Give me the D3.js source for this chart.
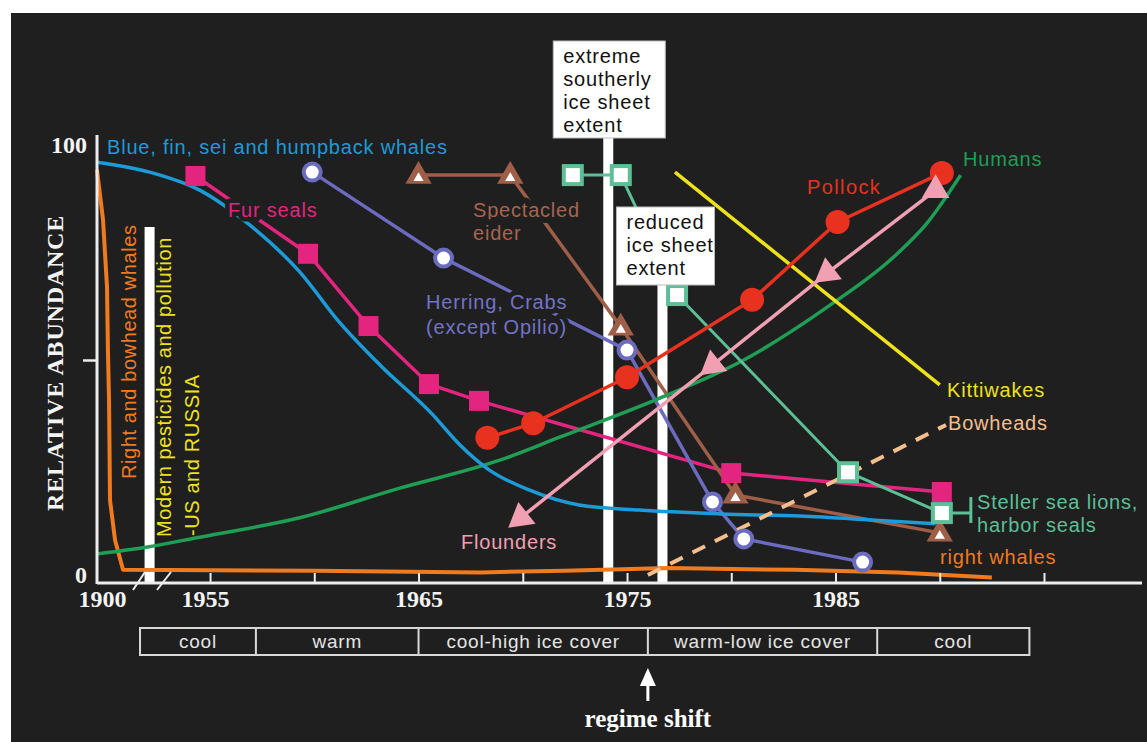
<!DOCTYPE html>
<html><head><meta charset="utf-8">
<script src="https://cdn.jsdelivr.net/npm/d3@7"></script>
<style>body{margin:0;background:#fff}svg{display:block}</style>
</head><body>
<svg id="c" width="1147" height="742"></svg>
<script>
// ---------- data ----------
const blueYears = [1900, 1952.1, 1954.5, 1956.9, 1959.3, 1961.2, 1963.2, 1965.6, 1967.0, 1968.4, 1970.3, 1972.7, 1975.6, 1979.5, 1983.3, 1986.7, 1989.8];
const blueVals  = [96, 93.7, 89.5, 81.4, 70.5, 58.8, 48.6, 37.7, 30.2, 24.4, 19.8, 16.3, 15.1, 14.2, 13.7, 12.8, 11.9];
const humanYears = [1900, 1952, 1954.5, 1959.3, 1964.1, 1968.9, 1971.8, 1976.6, 1980.6, 1984.6, 1987.8, 1989.4, 1991.0];
const humanVals  = [4.9, 6.5, 8.8, 13.3, 20.2, 26.7, 32.1, 41.2, 50.0, 62.3, 74.0, 81.9, 93.0];
const rightYears = [1900, 1906.2, 1910.3, 1911.3, 1912.4, 1913.4, 1918.6, 1926.8, 1960, 1968, 1972, 1977, 1983, 1988, 1992.5];
const rightVals  = [94.2, 82.6, 67, 51.6, 40.7, 17.4, 8.1, 1.2, 1.0, 0.6, 1.0, 1.6, 1.2, 0.6, -0.6];
const furYears = [1954.3, 1959.7, 1962.6, 1965.5, 1967.9, 1980.0, 1990.1];
const furVals  = [92.8, 74.7, 57.9, 44.4, 40.5, 23.7, 19.3];
const herringYears = [1959.9, 1966.2, 1975.0, 1979.1, 1980.6, 1986.3];
const herringVals  = [93.7, 73.7, 52.3, 17.0, 8.4, 3.0];
const eiderYears = [1965.0, 1969.4, 1974.7, 1980.2, 1990.0];
const eiderVals  = [93.0, 93.0, 57.7, 18.6, 9.8];
const stellerYears = [1972.4, 1974.7, 1977.4, 1985.6, 1990.1];
const stellerVals  = [93.0, 93.0, 65.1, 23.9, 14.4];
const pollockYears = [1968.3, 1970.5, 1975.0, 1981.0, 1985.1, 1990.1];
const pollockVals  = [31.9, 35.3, 46.0, 64.0, 82.1, 93.5];
const flounderYears = [1969.9, 1979.1, 1984.6, 1989.8];
const flounderVals  = [13.3, 48.8, 70.2, 89.5];
const kittiYears = [1977.3, 1990.0];
const kittiVals  = [93.7, 44.2];
const bowYears = [1976.0, 1990.3];
const bowVals  = [0, 34.9];

const pesticideYear = 1952.1;
const iceYears = [1974.1, 1976.7];
const iceTexts = [["extreme", "southerly", "ice sheet", "extent"], ["reduced", "ice sheet", "extent"]];
const regimeBounds = [1944.3, 1957.2, 1965.0, 1976.0, 1987.0, 1994.3];
const regimeLabels = ["cool", "warm", "cool-high ice cover", "warm-low ice cover", "cool"];
const regimeShiftYear = 1976.0;
const xTickYears = [1900, 1955, 1960, 1965, 1970, 1975, 1980, 1985, 1990, 1995];
const xTickLabels = ["1900", "1955", "", "1965", "", "1975", "", "1985", "", ""];
const yTickVals = [0, 50, 100];
const yTickLabels = ["0", "", "100"];

// ---------- setup ----------
const BG = "#1f1f1f";
const SANS = "'Liberation Sans', Arial, sans-serif";
const SERIF = "'Liberation Serif', 'Times New Roman', serif";
const svg = d3.select("#c");
svg.append("rect").attr("x", 11).attr("y", 13).attr("width", 1136).attr("height", 729).attr("fill", BG);

const x = d3.scaleLinear().domain([1900, 1952, 1995]).range([97, 147.5, 1044]);
const y = d3.scaleLinear().domain([0, 100]).range([575, 145]);
const AXY = 583;

const zip = (ys, vs) => ys.map((yr, i) => [yr, vs[i]]);
const lineGen = c => d3.line().x(d => x(d[0])).y(d => y(d[1])).curve(c || d3.curveLinear);

// ---------- event bars ----------
const bars = svg.append("g");
bars.append("rect").attr("x", x(pesticideYear) - 5).attr("y", 227).attr("width", 10).attr("height", AXY - 227).attr("fill", "#fff");
const iceTop = [138, 285];
iceYears.forEach((yr, i) => {
  bars.append("rect").attr("x", x(yr) - 5).attr("y", iceTop[i]).attr("width", 10).attr("height", AXY - iceTop[i]).attr("fill", "#fff");
});

// ---------- series ----------
const gL = svg.append("g").attr("fill", "none").attr("stroke-linejoin", "round");
function drawLine(data, color, w, curve, dash) {
  const p = gL.append("path").datum(data).attr("d", lineGen(curve)).attr("stroke", color).attr("stroke-width", w);
  if (dash) p.attr("stroke-dasharray", dash);
  return p;
}
const C = {
  blue: "#1d9ad8", magenta: "#e3257f", purple: "#6b6bbf", brown: "#9e5e48", mint: "#5cbf96",
  red: "#e8321f", pink: "#f0a0b2", green: "#1f9e55", yellow: "#eee21c", orange: "#f07a1e", tan: "#f3bf8e"
};
const furD = zip(furYears, furVals), herD = zip(herringYears, herringVals), eidD = zip(eiderYears, eiderVals);
drawLine(furD, C.magenta, 3.5);
drawLine(herD, C.purple, 3.5);
drawLine(eidD, C.brown, 3.5);

function label(txt, x0, y0, color, opts = {}) {
  const t = svg.append("text").attr("x", x0).attr("y", y0).text(txt)
    .attr("fill", color).attr("font-family", SANS).attr("font-size", opts.size || 20)
    .attr("letter-spacing", opts.ls == null ? 0.8 : opts.ls);
  if (opts.halo) t.attr("stroke", BG).attr("stroke-width", opts.halo).attr("paint-order", "stroke").attr("stroke-linejoin", "round");
  if (opts.anchor) t.attr("text-anchor", opts.anchor);
  return t;
}
label("Fur seals", 228, 217, C.magenta, {halo: 9});
label("Herring, Crabs", 426, 309, "#7373c6", {halo: 10});
label("(except Opilio)", 426, 334, "#7373c6", {halo: 10});
label("Spectacled", 473, 217, "#a8644e", {halo: 12});
label("eider", 473, 240, "#a8644e", {halo: 12});

drawLine(zip(rightYears, rightVals), C.orange, 4);
drawLine(zip(humanYears, humanVals), C.green, 3.5, d3.curveMonotoneX);
drawLine(zip(blueYears, blueVals), C.blue, 3.5, d3.curveMonotoneX);
drawLine(zip(bowYears, bowVals), C.tan, 4, null, "14 11");
drawLine(zip(kittiYears, kittiVals), C.yellow, 3.5);
const stD = zip(stellerYears, stellerVals), poD = zip(pollockYears, pollockVals), flD = zip(flounderYears, flounderVals);
drawLine(stD, C.mint, 3);
drawLine(flD, C.pink, 3.5);
drawLine(poD, C.red, 3.5);

// ---------- markers ----------
const gM = svg.append("g");
gM.selectAll(".fur").data(furD).join("rect").attr("x", d => x(d[0]) - 10).attr("y", d => y(d[1]) - 10)
  .attr("width", 20).attr("height", 20).attr("fill", C.magenta);
gM.selectAll(".her").data(herD).join("circle").attr("cx", d => x(d[0])).attr("cy", d => y(d[1])).attr("r", 8.5)
  .attr("fill", "#fff").attr("stroke", C.purple).attr("stroke-width", 4);
const tri = s => d3.symbol(d3.symbolTriangle, s)();
gM.selectAll(".eid").data(eidD).join("path").attr("d", tri(300))
  .attr("transform", d => `translate(${x(d[0])},${y(d[1]) + 1})`).attr("fill", C.brown);
gM.selectAll(".eidc").data(eidD).join("path").attr("d", tri(45))
  .attr("transform", d => `translate(${x(d[0])},${y(d[1]) + 3})`).attr("fill", "#fff");
gM.selectAll(".st").data(stD).join("rect").attr("x", d => x(d[0]) - 9).attr("y", d => y(d[1]) - 9)
  .attr("width", 18).attr("height", 18).attr("fill", "#fff").attr("stroke", C.mint).attr("stroke-width", 4);
gM.selectAll(".po").data(poD).join("circle").attr("cx", d => x(d[0])).attr("cy", d => y(d[1])).attr("r", 12).attr("fill", C.red);
gM.selectAll(".fl").data(flD).join("path").attr("d", tri(330))
  .attr("transform", (d, i) => {
    let a = 0;
    if (i < flD.length - 1) {
      const n = flD[i + 1];
      const dx = x(d[0]) - x(n[0]), dy = y(d[1]) - y(n[1]);
      a = Math.atan2(dy, dx) * 180 / Math.PI + 90;
    }
    return `translate(${x(d[0])},${y(d[1])}) rotate(${a})`;
  }).attr("fill", C.pink);

// steller bracket
const lastSt = stD[stD.length - 1];
const sx = x(lastSt[0]), sy = y(lastSt[1]);
svg.append("path").attr("d", `M${sx + 10},${sy}H${sx + 29}M${sx + 29},${sy - 16}V${sy + 10}`)
  .attr("stroke", C.mint).attr("stroke-width", 3).attr("fill", "none");

// ---------- labels ----------
label("Blue, fin, sei and humpback whales", 107, 154, C.blue);
label("Pollock", 807, 194, C.red, {ls: 1.4});
label("Humans", 963, 166, C.green);
label("Kittiwakes", 947, 397, C.yellow);
label("Bowheads", 948, 430, C.tan);
label("Steller sea lions,", 977, 509, C.mint);
label("harbor seals", 977, 532, C.mint);
label("right whales", 940, 564, C.orange);
label("Flounders", 461, 549, C.pink);

function vlabel(txt, bx, by, color) {
  svg.append("text").attr("transform", `translate(${bx},${by}) rotate(-90)`).text(txt)
    .attr("fill", color).attr("font-family", SANS).attr("font-size", 20).attr("letter-spacing", 0.6);
}
vlabel("Right and bowhead whales", 136, 479, C.orange);
vlabel("Modern pesticides and pollution", 171, 537, C.yellow);
vlabel("-US and RUSSIA", 199, 536, C.yellow);

// ---------- ice boxes ----------
const boxes = [{x0: -55, x1: 57, y0: 41, y1: 138}, {x0: -46, x1: 52, y0: 207, y1: 285}];
iceYears.forEach((yr, i) => {
  const cx = x(yr), b = boxes[i];
  svg.append("rect").attr("x", cx + b.x0).attr("y", b.y0).attr("width", b.x1 - b.x0).attr("height", b.y1 - b.y0)
    .attr("fill", "#fff").attr("stroke", "#bbb").attr("stroke-width", 1);
  iceTexts[i].forEach((t, j) => {
    label(t, cx + b.x0 + 10, b.y0 + 22 + j * 23, "#111");
  });
});

// ---------- axes ----------
const axCol = "#ececec";
svg.append("line").attr("x1", 97).attr("x2", 1142).attr("y1", AXY).attr("y2", AXY).attr("stroke", axCol).attr("stroke-width", 3);
svg.append("line").attr("x1", 97).attr("x2", 97).attr("y1", 135).attr("y2", AXY + 1).attr("stroke", axCol).attr("stroke-width", 3);
const gx = svg.append("g").attr("transform", `translate(0,${AXY})`)
  .call(d3.axisBottom(x).tickValues(xTickYears).tickSizeInner(-10).tickSizeOuter(0).tickPadding(7)
    .tickFormat((d, i) => xTickLabels[i]));
gx.select(".domain").remove();
gx.selectAll(".tick line").attr("stroke", axCol).attr("stroke-width", 2).filter(d => d === 1900).remove();
gx.selectAll(".tick text").attr("fill", "#f4f4f4").attr("font-family", SERIF).attr("font-weight", "bold").attr("font-size", 24)
  .attr("dx", d => d === 1900 ? 5 : (d === 1955 ? -5 : 0));
const gy = svg.append("g").attr("transform", "translate(97,0)")
  .call(d3.axisLeft(y).tickValues(yTickVals).tickSizeInner(14).tickSizeOuter(0).tickPadding(-4)
    .tickFormat((d, i) => yTickLabels[i]));
gy.select(".domain").remove();
gy.selectAll(".tick line").attr("stroke", axCol).attr("stroke-width", 2.5).filter(d => d !== 50).remove();
gy.selectAll(".tick text").attr("fill", "#f4f4f4").attr("font-family", SERIF).attr("font-weight", "bold").attr("font-size", 24);

svg.append("path").attr("d", "M133,590L145,572M157,590L171,572").attr("stroke", axCol).attr("stroke-width", 2).attr("fill", "none");

svg.append("text").attr("transform", "translate(63,363) rotate(-90)").attr("text-anchor", "middle")
  .text("RELATIVE ABUNDANCE").attr("fill", "#f4f4f4").attr("font-family", SERIF).attr("font-weight", "bold")
  .attr("font-size", 24).attr("letter-spacing", 0.8);

// ---------- regime table ----------
const gT = svg.append("g");
const tY0 = 628, tY1 = 655;
gT.append("rect").attr("x", x(regimeBounds[0])).attr("y", tY0).attr("width", x(regimeBounds[regimeBounds.length - 1]) - x(regimeBounds[0]))
  .attr("height", tY1 - tY0).attr("fill", "none").attr("stroke", "#d8d8d8").attr("stroke-width", 2);
regimeLabels.forEach((t, i) => {
  const a = x(regimeBounds[i]), b = x(regimeBounds[i + 1]);
  if (i > 0) gT.append("line").attr("x1", a).attr("x2", a).attr("y1", tY0).attr("y2", tY1).attr("stroke", "#d8d8d8").attr("stroke-width", 2);
  label(t, (a + b) / 2, 648, "#e4e4e4", {size: 19, ls: 0.8, anchor: "middle"});
});
const rx = x(regimeShiftYear);
svg.append("path").attr("d", `M${rx},668L${rx - 8},686L${rx + 8},686Z`).attr("fill", "#fff");
svg.append("line").attr("x1", rx).attr("x2", rx).attr("y1", 684).attr("y2", 701).attr("stroke", "#fff").attr("stroke-width", 3);
svg.append("text").attr("x", rx).attr("y", 727).attr("text-anchor", "middle").text("regime shift")
  .attr("fill", "#fff").attr("font-family", SERIF).attr("font-weight", "bold").attr("font-size", 25);
</script>
</body></html>
